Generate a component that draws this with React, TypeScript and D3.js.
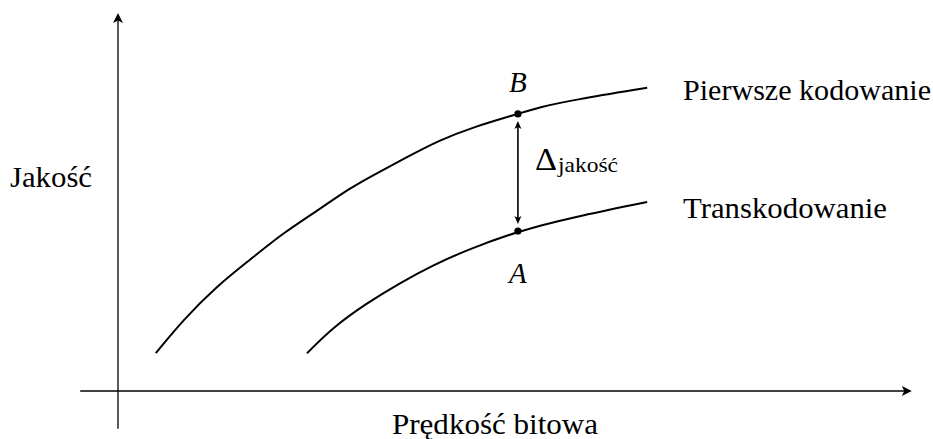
import React from "react";
import * as d3 from "d3";

// curve samples (x = bitrate, y = quality, in plot units)
const firstX = [1, 1.72, 2.62, 3.49, 4.37, 5.26, 6.14, 6.75, 7.65, 8.52, 9.39, 10.58, 11.16, 12.04, 14];
const firstY = [1, 1.88, 2.78, 3.47, 4.18, 4.76, 5.37, 5.71, 6.19, 6.64, 6.98, 7.33, 7.51, 7.7, 8.02];
const transX = [5, 5.69, 6.59, 7.46, 8.33, 9.23, 10.58, 12.04, 14];
const transY = [1, 1.69, 2.33, 2.86, 3.33, 3.73, 4.23, 4.6, 5];

const seriesNames = ["Pierwsze kodowanie", "Transkodowanie"];
const pointLabels = ["B", "A"];
const pointX = 10.58;
const pointY = [7.33, 4.23];

const xAxisRange = [-1, 21];
const yAxisRange = [-1, 10];

const FONT = "Liberation Serif";

// arrow head with its tip at (tx, ty), pointing along (dx, dy)
function head(tx: number, ty: number, dx: number, dy: number, len: number, half: number) {
  const nx = -dy;
  const ny = dx;
  const bx = tx - dx * len;
  const by = ty - dy * len;
  const ix = tx - dx * len * 0.75;
  const iy = ty - dy * len * 0.75;
  return `M${tx},${ty}L${bx + nx * half},${by + ny * half}L${ix},${iy}L${bx - nx * half},${by - ny * half}Z`;
}

export default function App() {
  const width = 933;
  const height = 439;
  const unit = 37.8;
  const ox = 118;
  const oy = 391;

  const x = d3.scaleLinear().domain([0, 1]).range([ox, ox + unit]);
  const y = d3.scaleLinear().domain([0, 1]).range([oy, oy - unit]);

  const line = d3
    .line<[number, number]>()
    .x((d) => x(d[0]))
    .y((d) => y(d[1]))
    .curve(d3.curveBasis);

  const first = firstX.map((v, i) => [v, firstY[i]] as [number, number]);
  const trans = transX.map((v, i) => [v, transY[i]] as [number, number]);

  const px = x(pointX);
  const topTip = y(pointY[0]) + 7;
  const botTip = y(pointY[1]) - 7;

  return (
    <svg width={width} height={height} style={{ position: "absolute", left: 0, top: 0, background: "#fff" }}>
      <style>{"text { font-family: 'Liberation Serif', 'Times New Roman', serif; }"}</style>

      {/* text first */}
      <text x={px} y={92} fontFamily={FONT} fontSize={29} fontStyle="italic" textAnchor="middle">
        {pointLabels[0]}
      </text>
      <text x={px} y={283} fontFamily={FONT} fontSize={29} fontStyle="italic" textAnchor="middle">
        {pointLabels[1]}
      </text>
      <text x={535} y={170} fontFamily={FONT} fontSize={31} textLength={22} lengthAdjust="spacingAndGlyphs">
        Δ
      </text>
      <text x={558} y={172} fontFamily={FONT} fontSize={21} textLength={60} lengthAdjust="spacingAndGlyphs">
        jakość
      </text>
      <text x={683} y={100} fontFamily={FONT} fontSize={30} textLength={248} lengthAdjust="spacingAndGlyphs">
        {seriesNames[0]}
      </text>
      <text x={683} y={218} fontFamily={FONT} fontSize={30} textLength={204} lengthAdjust="spacingAndGlyphs">
        {seriesNames[1]}
      </text>
      <text x={10} y={187} fontFamily={FONT} fontSize={30} textLength={82} lengthAdjust="spacingAndGlyphs">
        Jakość
      </text>
      <text x={392} y={434} fontFamily={FONT} fontSize={30} textLength={206} lengthAdjust="spacingAndGlyphs">
        Prędkość bitowa
      </text>

      {/* axes */}
      <line x1={x(xAxisRange[0])} x2={x(xAxisRange[1]) - 6} y1={y(0)} y2={y(0)} stroke="#000" strokeWidth={1.3} />
      <path d={head(x(xAxisRange[1]), y(0), 1, 0, 10, 5)} fill="#000" />
      <line x1={x(0)} x2={x(0)} y1={y(yAxisRange[0])} y2={y(yAxisRange[1]) + 6} stroke="#000" strokeWidth={1.3} />
      <path d={head(x(0), y(yAxisRange[1]), 0, -1, 10, 5)} fill="#000" />

      {/* curves */}
      <path d={line(first) || ""} fill="none" stroke="#000" strokeWidth={2} />
      <path d={line(trans) || ""} fill="none" stroke="#000" strokeWidth={2} />

      {/* delta arrow */}
      <line x1={px} x2={px} y1={botTip - 4} y2={topTip + 4} stroke="#000" strokeWidth={1.6} />
      <path d={head(px, topTip, 0, -1, 8, 3.5)} fill="#000" />
      <path d={head(px, botTip, 0, 1, 8, 3.5)} fill="#000" />
      {pointY.map((v, i) => (
        <circle key={i} cx={px} cy={y(v)} r={3.6} fill="#000" />
      ))}
    </svg>
  );
}
